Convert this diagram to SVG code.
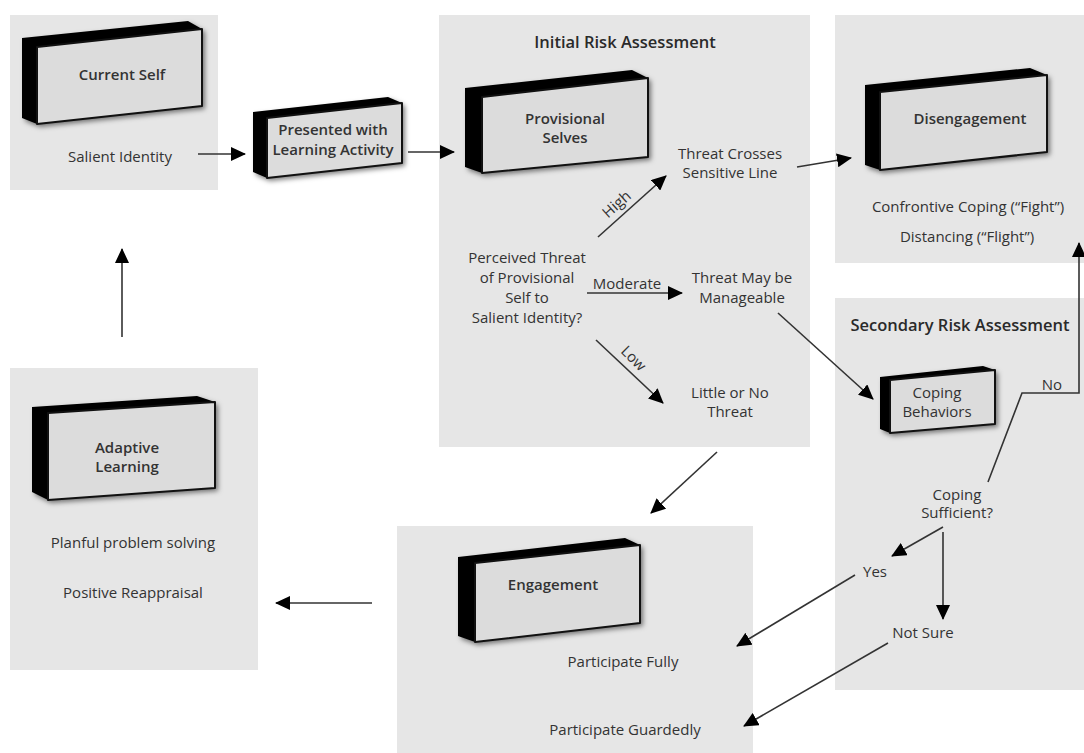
<svg xmlns="http://www.w3.org/2000/svg" width="1084" height="753" viewBox="0 0 1084 753">
<defs>
<style>
.panel{fill:#e6e6e6}
.back{fill:#000}
.face{fill:#dcdcdc;stroke:#111;stroke-width:2;stroke-linejoin:round}
.bx{font-family:"Open Sans","Liberation Sans",sans-serif;font-size:15px;font-weight:600;fill:#333;text-anchor:middle}
.tx{font-family:"Open Sans","Liberation Sans",sans-serif;font-size:15px;fill:#333;text-anchor:middle}
.tt{font-family:"Open Sans","Liberation Sans",sans-serif;font-size:16.5px;font-weight:600;fill:#2a2a2a;text-anchor:middle}
.ln{fill:none;stroke:#333;stroke-width:1.6;marker-end:url(#ah)}
</style>
<marker id="ah" markerUnits="userSpaceOnUse" markerWidth="16" markerHeight="14" refX="14" refY="7" orient="auto">
<path d="M0,0 L15,7 L0,14 z" fill="#000"/>
</marker>
<filter id="sh" x="-10%" y="-10%" width="130%" height="140%">
<feDropShadow dx="3" dy="3" stdDeviation="2.5" flood-color="#000" flood-opacity="0.5"/>
</filter>
</defs>

<g id="panels">
<rect class="panel" x="10" y="15" width="208" height="175"/>
<rect class="panel" x="439" y="15" width="371" height="432"/>
<rect class="panel" x="835" y="15" width="249" height="248"/>
<rect class="panel" x="835" y="298" width="249" height="392"/>
<rect class="panel" x="397" y="526" width="356" height="227"/>
<rect class="panel" x="10" y="368" width="248" height="302"/>
</g>

<g id="current-self">
<polygon class="back" filter="url(#sh)" points="22,38 188,21 202,29 202,106 37,124 22,118"/>
<polygon class="face" points="37,47 202,29 202,106 37,124"/>
<text class="bx" x="122" y="80">Current Self</text>
<text class="tx" x="120" y="162">Salient Identity</text>
</g>

<g id="presented">
<polygon class="back" filter="url(#sh)" points="253,112 388,97 402,103 402,163 267,178 253,172"/>
<polygon class="face" points="267,118 402,103 402,163 267,178"/>
<text class="bx" x="333" y="135">Presented with</text>
<text class="bx" x="333" y="155">Learning Activity</text>
</g>

<g id="initial-risk">
<text class="tt" x="625" y="48">Initial Risk Assessment</text>
<polygon class="back" filter="url(#sh)" points="465,88 632,70 648,78 648,157 482,173 465,167"/>
<polygon class="face" points="482,97 648,78 648,157 482,173"/>
<text class="bx" x="565" y="124">Provisional</text>
<text class="bx" x="565" y="143">Selves</text>
<text class="tx" x="730" y="159">Threat Crosses</text>
<text class="tx" x="730" y="178">Sensitive Line</text>
<text class="tx" x="527" y="263">Perceived Threat</text>
<text class="tx" x="527" y="283">of Provisional</text>
<text class="tx" x="527" y="303">Self to</text>
<text class="tx" x="527" y="323">Salient Identity?</text>
<text class="tx" x="742" y="283">Threat May be</text>
<text class="tx" x="742" y="303">Manageable</text>
<text class="tx" x="730" y="398">Little or No</text>
<text class="tx" x="730" y="417">Threat</text>
</g>

<g id="disengagement">
<polygon class="back" filter="url(#sh)" points="865,85 1030,68 1047,75 1047,152 880,170 865,165"/>
<polygon class="face" points="880,92 1047,75 1047,152 880,170"/>
<text class="bx" x="970" y="124">Disengagement</text>
<text class="tx" x="968" y="212">Confrontive Coping (“Fight”)</text>
<text class="tx" x="967" y="242">Distancing (“Flight”)</text>
</g>

<g id="secondary-risk">
<text class="tt" x="960" y="331">Secondary Risk Assessment</text>
<polygon class="back" filter="url(#sh)" points="880,377 983,366 995,370 995,424 890,433 880,429"/>
<polygon class="face" points="890,380 995,370 995,424 890,433"/>
<text class="tx" x="937" y="398">Coping</text>
<text class="tx" x="937" y="417">Behaviors</text>
<text class="tx" x="957" y="500">Coping</text>
<text class="tx" x="957" y="518">Sufficient?</text>
<text class="tx" x="1052" y="390">No</text>
<text class="tx" x="875" y="577">Yes</text>
<text class="tx" x="923" y="638">Not Sure</text>
</g>

<g id="engagement">
<polygon class="back" filter="url(#sh)" points="458,557 625,538 640,545 640,623 475,642 458,636"/>
<polygon class="face" points="475,563 640,545 640,623 475,642"/>
<text class="bx" x="553" y="590">Engagement</text>
<text class="tx" x="623" y="667">Participate Fully</text>
<text class="tx" x="625" y="735">Participate Guardedly</text>
</g>

<g id="adaptive-learning">
<polygon class="back" filter="url(#sh)" points="32,407 197,396 215,402 215,488 48,500 32,492"/>
<polygon class="face" points="48,413 215,402 215,488 48,500"/>
<text class="bx" x="127" y="453">Adaptive</text>
<text class="bx" x="127" y="472">Learning</text>
<text class="tx" x="133" y="548">Planful problem solving</text>
<text class="tx" x="133" y="598">Positive Reappraisal</text>
</g>

<g id="connectors">
<line class="ln" x1="198" y1="154" x2="245" y2="154"/>
<line class="ln" x1="408" y1="152" x2="454" y2="152"/>
<line class="ln" x1="598" y1="237" x2="666" y2="176"/>
<line class="ln" x1="587" y1="293" x2="682" y2="293"/>
<line class="ln" x1="596" y1="340" x2="663" y2="403"/>
<line class="ln" x1="797" y1="167" x2="851" y2="158"/>
<line class="ln" x1="778" y1="313" x2="873" y2="399"/>
<polyline class="ln" points="988,482 1022,393 1079,393 1079,243"/>
<line class="ln" x1="943" y1="527" x2="892" y2="556"/>
<line class="ln" x1="943" y1="532" x2="943" y2="619"/>
<line class="ln" x1="855" y1="575" x2="737" y2="646"/>
<line class="ln" x1="888" y1="643" x2="744" y2="726"/>
<line class="ln" x1="717" y1="452" x2="651" y2="513"/>
<line class="ln" x1="372" y1="603" x2="276" y2="603"/>
<line class="ln" x1="122" y1="337" x2="122" y2="249"/>
<text class="tx" transform="translate(620,208) rotate(-42)">High</text>
<text class="tx" x="627" y="289">Moderate</text>
<text class="tx" transform="translate(630,362) rotate(45)">Low</text>
</g>
</svg>
